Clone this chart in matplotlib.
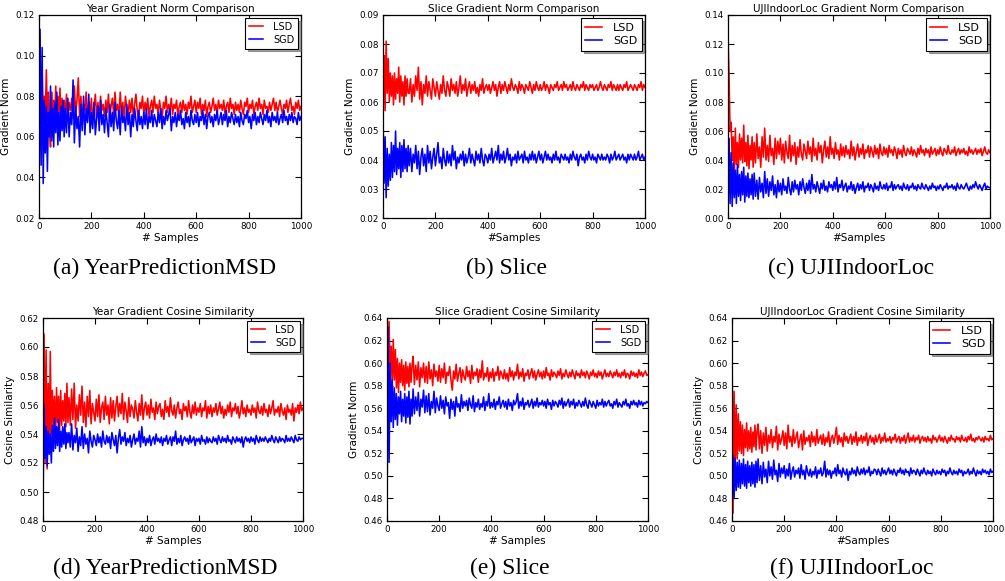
import matplotlib
matplotlib.use("Agg")
import matplotlib.pyplot as plt
from matplotlib.ticker import FormatStrFormatter

# sample index of every recorded point (every 4 samples up to 100, then every 5)
SAMPLES = list(range(0, 100, 4)) + list(range(100, 1001, 5))

# (a) YearPredictionMSD - gradient norm
year_norm_lsd = [
    0.090, 0.108, 0.072, 0.092, 0.066, 0.080, 0.070, 0.093, 0.068, 0.082,
    0.063, 0.055, 0.082, 0.068, 0.078, 0.070, 0.085, 0.066, 0.080, 0.071,
    0.084, 0.067, 0.079, 0.064, 0.078,
    0.071, 0.081, 0.068, 0.077, 0.073, 0.079, 0.069, 0.085, 0.072, 0.078,
    0.089, 0.070, 0.080, 0.066, 0.076, 0.073, 0.082, 0.068, 0.077, 0.071,
    0.079, 0.068, 0.074, 0.081, 0.070, 0.077, 0.067, 0.080, 0.073, 0.076,
    0.070, 0.078, 0.072, 0.081, 0.069, 0.075, 0.079, 0.071, 0.082, 0.073,
    0.076, 0.070, 0.082, 0.072, 0.077, 0.069, 0.080, 0.074, 0.071, 0.078,
    0.072, 0.079, 0.070, 0.076, 0.081, 0.073, 0.068, 0.077, 0.074, 0.080,
    0.071, 0.077, 0.073, 0.079, 0.070, 0.075, 0.078, 0.072, 0.080, 0.074,
    0.076, 0.071, 0.078, 0.073, 0.069, 0.077, 0.074, 0.080, 0.072, 0.076,
    0.073, 0.079, 0.071, 0.076, 0.074, 0.078, 0.070, 0.075, 0.077, 0.072,
    0.078, 0.073, 0.076, 0.071, 0.077, 0.074, 0.080, 0.072, 0.075, 0.078,
    0.072, 0.077, 0.074, 0.079, 0.071, 0.076, 0.073, 0.078, 0.070, 0.075,
    0.077, 0.072, 0.075, 0.079, 0.073, 0.076, 0.071, 0.078, 0.074, 0.076,
    0.073, 0.078, 0.071, 0.075, 0.077, 0.072, 0.079, 0.074, 0.076, 0.071,
    0.077, 0.073, 0.076, 0.072, 0.078, 0.074, 0.071, 0.077, 0.075, 0.079,
    0.072, 0.076, 0.074, 0.078, 0.071, 0.075, 0.077, 0.073, 0.079, 0.074,
    0.076, 0.071, 0.078, 0.074, 0.075, 0.072, 0.077, 0.073, 0.076, 0.079,
    0.073, 0.077, 0.072, 0.075, 0.078, 0.074, 0.071, 0.076, 0.074, 0.078,
    0.072, 0.076, 0.079, 0.073, 0.075, 0.071, 0.077, 0.074, 0.078, 0.073,
    0.075,
]
year_norm_sgd = [
    0.029, 0.113, 0.046, 0.104, 0.037, 0.078, 0.052, 0.075, 0.043, 0.072,
    0.060, 0.085, 0.058, 0.074, 0.055, 0.077, 0.062, 0.082, 0.056, 0.072,
    0.058, 0.075, 0.063, 0.078, 0.060,
    0.074, 0.062, 0.079, 0.060, 0.072, 0.066, 0.088, 0.057, 0.075, 0.064,
    0.070, 0.055, 0.076, 0.063, 0.080, 0.061, 0.074, 0.067, 0.081, 0.062,
    0.072, 0.064, 0.077, 0.061, 0.069, 0.075, 0.063, 0.078, 0.066, 0.071,
    0.062, 0.074, 0.067, 0.060, 0.076, 0.065, 0.072, 0.063, 0.077, 0.068,
    0.064, 0.073, 0.061, 0.075, 0.067, 0.070, 0.063, 0.076, 0.066, 0.072,
    0.060, 0.071, 0.065, 0.074, 0.068, 0.063, 0.073, 0.066, 0.070, 0.064,
    0.072, 0.066, 0.074, 0.064, 0.070, 0.067, 0.073, 0.065, 0.071, 0.068,
    0.065, 0.072, 0.067, 0.074, 0.064, 0.070, 0.066, 0.073, 0.068, 0.071,
    0.074, 0.063, 0.070, 0.067, 0.072, 0.065, 0.071, 0.068, 0.073, 0.066,
    0.069, 0.064, 0.072, 0.067, 0.070, 0.065, 0.073, 0.068, 0.066, 0.071,
    0.067, 0.072, 0.065, 0.070, 0.068, 0.073, 0.066, 0.071, 0.064, 0.070,
    0.072, 0.067, 0.070, 0.065, 0.071, 0.068, 0.073, 0.066, 0.069, 0.072,
    0.066, 0.071, 0.068, 0.073, 0.065, 0.070, 0.067, 0.072, 0.069, 0.066,
    0.071, 0.067, 0.070, 0.065, 0.072, 0.068, 0.066, 0.071, 0.069, 0.073,
    0.067, 0.070, 0.064, 0.071, 0.068, 0.072, 0.066, 0.070, 0.067, 0.072,
    0.069, 0.066, 0.071, 0.068, 0.073, 0.067, 0.070, 0.065, 0.072, 0.068,
    0.070, 0.067, 0.072, 0.066, 0.069, 0.071, 0.067, 0.073, 0.068, 0.070,
    0.066, 0.071, 0.068, 0.072, 0.067, 0.070, 0.069, 0.066, 0.072, 0.068,
    0.070,
]

# (b) Slice - gradient norm
slice_norm_lsd = [
    0.070, 0.076, 0.057, 0.081, 0.063, 0.075, 0.060, 0.070, 0.062, 0.069,
    0.059, 0.070, 0.061, 0.068, 0.063, 0.072, 0.060, 0.069, 0.062, 0.067,
    0.059, 0.069, 0.062, 0.068, 0.063,
    0.063, 0.068, 0.060, 0.066, 0.062, 0.069, 0.064, 0.072, 0.061, 0.067,
    0.059, 0.066, 0.063, 0.069, 0.062, 0.067, 0.064, 0.061, 0.068, 0.065,
    0.062, 0.067, 0.064, 0.061, 0.066, 0.063, 0.069, 0.064, 0.062, 0.067,
    0.065, 0.062, 0.068, 0.064, 0.066, 0.063, 0.067, 0.062, 0.065, 0.069,
    0.063, 0.066, 0.064, 0.068, 0.062, 0.065, 0.067, 0.063, 0.066, 0.064,
    0.067, 0.063, 0.065, 0.062, 0.066, 0.064, 0.068, 0.063, 0.065, 0.066,
    0.064, 0.066, 0.063, 0.065, 0.067, 0.064, 0.066, 0.062, 0.065, 0.067,
    0.063, 0.066, 0.064, 0.067, 0.065, 0.063, 0.066, 0.064, 0.068, 0.065,
    0.064, 0.066, 0.065, 0.063, 0.067, 0.064, 0.066, 0.065, 0.063, 0.066,
    0.065, 0.064, 0.067, 0.065, 0.063, 0.066, 0.064, 0.067, 0.065, 0.064,
    0.066, 0.064, 0.065, 0.067, 0.064, 0.066, 0.065, 0.063, 0.066, 0.065,
    0.064, 0.066, 0.065, 0.067, 0.064, 0.065, 0.066, 0.064, 0.067, 0.065,
    0.066, 0.064, 0.065, 0.066, 0.064, 0.067, 0.065, 0.064, 0.066, 0.065,
    0.064, 0.066, 0.065, 0.067, 0.064, 0.066, 0.065, 0.064, 0.066, 0.065,
    0.066, 0.064, 0.065, 0.066, 0.064, 0.065, 0.067, 0.065, 0.064, 0.066,
    0.065, 0.064, 0.066, 0.065, 0.067, 0.064, 0.066, 0.065, 0.064, 0.066,
    0.064, 0.066, 0.065, 0.064, 0.066, 0.065, 0.067, 0.064, 0.065, 0.066,
    0.065, 0.064, 0.066, 0.065, 0.064, 0.066, 0.065, 0.067, 0.064, 0.066,
    0.065,
]
slice_norm_sgd = [
    0.055, 0.032, 0.048, 0.027, 0.044, 0.031, 0.042, 0.033, 0.046, 0.034,
    0.045, 0.036, 0.050, 0.035, 0.044, 0.037, 0.046, 0.034, 0.045, 0.036,
    0.047, 0.037, 0.044, 0.036, 0.045,
    0.038, 0.044, 0.036, 0.042, 0.039, 0.045, 0.037, 0.043, 0.035, 0.041,
    0.044, 0.038, 0.042, 0.036, 0.045, 0.039, 0.043, 0.037, 0.041, 0.044,
    0.038, 0.042, 0.046, 0.039, 0.041, 0.037, 0.044, 0.040, 0.038, 0.043,
    0.039, 0.042, 0.038, 0.045, 0.040, 0.043, 0.037, 0.041, 0.039, 0.042,
    0.040, 0.043, 0.038, 0.042, 0.039, 0.041, 0.044, 0.039, 0.042, 0.040,
    0.038, 0.043, 0.040, 0.042, 0.039, 0.044, 0.040, 0.038, 0.042, 0.041,
    0.039, 0.042, 0.040, 0.044, 0.039, 0.041, 0.043, 0.040, 0.045, 0.039,
    0.042, 0.040, 0.043, 0.039, 0.041, 0.044, 0.040, 0.042, 0.038, 0.041,
    0.040, 0.042, 0.039, 0.043, 0.040, 0.041, 0.042, 0.039, 0.043, 0.040,
    0.041, 0.039, 0.042, 0.040, 0.043, 0.040, 0.042, 0.039, 0.041, 0.043,
    0.040, 0.042, 0.039, 0.041, 0.043, 0.040, 0.042, 0.040, 0.041, 0.039,
    0.042, 0.040, 0.043, 0.040, 0.041, 0.039, 0.042, 0.041, 0.040, 0.042,
    0.040, 0.041, 0.039, 0.042, 0.040, 0.043, 0.041, 0.040, 0.042, 0.038,
    0.041, 0.042, 0.040, 0.041, 0.039, 0.042, 0.040, 0.043, 0.041, 0.040,
    0.042, 0.040, 0.041, 0.039, 0.042, 0.041, 0.040, 0.042, 0.040, 0.041,
    0.040, 0.042, 0.041, 0.039, 0.042, 0.040, 0.041, 0.043, 0.040, 0.041,
    0.042, 0.040, 0.041, 0.042, 0.040, 0.041, 0.039, 0.042, 0.040, 0.042,
    0.041, 0.040, 0.042, 0.040, 0.041, 0.043, 0.040, 0.041, 0.042, 0.040,
    0.041,
]

# (c) UJIIndoorLoc - gradient norm
uji_norm_lsd = [
    0.125, 0.098, 0.060, 0.066, 0.040, 0.056, 0.028, 0.062, 0.037, 0.052,
    0.035, 0.058, 0.040, 0.055, 0.038, 0.064, 0.039, 0.052, 0.036, 0.057,
    0.034, 0.050, 0.040, 0.056, 0.035,
    0.052, 0.038, 0.058, 0.041, 0.049, 0.035, 0.056, 0.042, 0.062, 0.040,
    0.050, 0.039, 0.057, 0.043, 0.048, 0.037, 0.055, 0.041, 0.053, 0.044,
    0.055, 0.040, 0.051, 0.038, 0.053, 0.045, 0.041, 0.057, 0.039, 0.050,
    0.043, 0.052, 0.037, 0.049, 0.042, 0.054, 0.044, 0.040, 0.051, 0.046,
    0.041, 0.053, 0.044, 0.049, 0.039, 0.055, 0.043, 0.048, 0.040, 0.052,
    0.045, 0.050, 0.038, 0.047, 0.053, 0.042, 0.049, 0.041, 0.056, 0.044,
    0.048, 0.041, 0.052, 0.044, 0.047, 0.040, 0.051, 0.043, 0.049, 0.042,
    0.050, 0.044, 0.047, 0.041, 0.053, 0.043, 0.049, 0.040, 0.046, 0.051,
    0.042, 0.048, 0.044, 0.051, 0.041, 0.047, 0.045, 0.050, 0.042, 0.049,
    0.046, 0.042, 0.050, 0.044, 0.048, 0.041, 0.051, 0.045, 0.043, 0.049,
    0.044, 0.048, 0.042, 0.050, 0.045, 0.047, 0.043, 0.049, 0.046, 0.041,
    0.048, 0.044, 0.047, 0.042, 0.050, 0.045, 0.043, 0.048, 0.046, 0.044,
    0.049, 0.043, 0.047, 0.045, 0.042, 0.048, 0.044, 0.050, 0.045, 0.047,
    0.043, 0.048, 0.045, 0.047, 0.042, 0.049, 0.044, 0.046, 0.048, 0.043,
    0.047, 0.044, 0.049, 0.045, 0.043, 0.048, 0.046, 0.044, 0.050, 0.045,
    0.044, 0.047, 0.045, 0.049, 0.043, 0.046, 0.048, 0.044, 0.047, 0.045,
    0.048, 0.044, 0.046, 0.043, 0.049, 0.045, 0.047, 0.044, 0.046, 0.048,
    0.044, 0.047, 0.045, 0.048, 0.043, 0.046, 0.049, 0.045, 0.044, 0.047,
    0.045,
]
uji_norm_sgd = [
    0.003, 0.055, 0.010, 0.045, 0.008, 0.038, 0.014, 0.033, 0.010, 0.037,
    0.015, 0.030, 0.012, 0.032, 0.016, 0.035, 0.011, 0.029, 0.015, 0.031,
    0.014, 0.027, 0.016, 0.030, 0.013,
    0.031, 0.015, 0.026, 0.013, 0.028, 0.018, 0.024, 0.014, 0.032, 0.017,
    0.027, 0.015, 0.025, 0.019, 0.029, 0.016, 0.023, 0.014, 0.026, 0.018,
    0.024, 0.016, 0.027, 0.019, 0.022, 0.017, 0.028, 0.020, 0.016, 0.025,
    0.018, 0.026, 0.020, 0.023, 0.016, 0.025, 0.019, 0.027, 0.021, 0.017,
    0.024, 0.019, 0.026, 0.017, 0.030, 0.020, 0.023, 0.018, 0.025, 0.021,
    0.017, 0.024, 0.020, 0.026, 0.019, 0.022, 0.018, 0.025, 0.021, 0.023,
    0.019, 0.025, 0.020, 0.028, 0.018, 0.023, 0.021, 0.026, 0.019, 0.022,
    0.024, 0.018, 0.022, 0.020, 0.025, 0.019, 0.023, 0.017, 0.021, 0.024,
    0.019, 0.023, 0.020, 0.025, 0.018, 0.022, 0.021, 0.024, 0.019, 0.023,
    0.021, 0.018, 0.024, 0.020, 0.022, 0.019, 0.025, 0.021, 0.020, 0.023,
    0.020, 0.024, 0.019, 0.022, 0.021, 0.025, 0.019, 0.023, 0.020, 0.022,
    0.023, 0.020, 0.022, 0.019, 0.024, 0.021, 0.020, 0.023, 0.019, 0.022,
    0.021, 0.024, 0.020, 0.022, 0.019, 0.023, 0.021, 0.020, 0.024, 0.021,
    0.020, 0.023, 0.021, 0.019, 0.022, 0.020, 0.024, 0.021, 0.022, 0.019,
    0.022, 0.020, 0.023, 0.021, 0.019, 0.022, 0.021, 0.024, 0.020, 0.022,
    0.021, 0.023, 0.020, 0.022, 0.019, 0.024, 0.021, 0.020, 0.023, 0.021,
    0.020, 0.022, 0.024, 0.021, 0.019, 0.022, 0.020, 0.023, 0.021, 0.025,
    0.022, 0.020, 0.023, 0.021, 0.019, 0.022, 0.024, 0.020, 0.022, 0.021,
    0.021,
]

# (d) YearPredictionMSD - cosine similarity
year_cos_lsd = [
    0.550, 0.609, 0.520, 0.598, 0.516, 0.575, 0.530, 0.597, 0.540, 0.570,
    0.545, 0.566, 0.535, 0.572, 0.548, 0.566, 0.543, 0.570, 0.546, 0.563,
    0.549, 0.568, 0.545, 0.575, 0.548,
    0.565, 0.546, 0.571, 0.550, 0.575, 0.544, 0.560, 0.549, 0.567, 0.553,
    0.573, 0.548, 0.562, 0.545, 0.566, 0.552, 0.570, 0.547, 0.561, 0.555,
    0.549, 0.564, 0.552, 0.567, 0.548, 0.558, 0.562, 0.550, 0.566, 0.553,
    0.560, 0.547, 0.565, 0.551, 0.563, 0.549, 0.559, 0.566, 0.552, 0.561,
    0.554, 0.568, 0.550, 0.562, 0.556, 0.548, 0.565, 0.552, 0.560, 0.557,
    0.551, 0.563, 0.555, 0.549, 0.561, 0.553, 0.567, 0.550, 0.558, 0.562,
    0.553, 0.560, 0.551, 0.564, 0.555, 0.558, 0.550, 0.562, 0.554, 0.559,
    0.561, 0.552, 0.557, 0.550, 0.563, 0.555, 0.559, 0.552, 0.565, 0.556,
    0.553, 0.560, 0.551, 0.558, 0.562, 0.554, 0.557, 0.550, 0.561, 0.556,
    0.559, 0.552, 0.563, 0.555, 0.551, 0.560, 0.554, 0.562, 0.553, 0.558,
    0.555, 0.561, 0.552, 0.558, 0.556, 0.563, 0.551, 0.559, 0.554, 0.560,
    0.552, 0.558, 0.555, 0.561, 0.553, 0.557, 0.562, 0.554, 0.559, 0.551,
    0.557, 0.553, 0.560, 0.555, 0.562, 0.552, 0.558, 0.556, 0.561, 0.554,
    0.559, 0.551, 0.556, 0.563, 0.554, 0.558, 0.552, 0.560, 0.555, 0.557,
    0.553, 0.560, 0.555, 0.558, 0.551, 0.562, 0.556, 0.554, 0.559, 0.553,
    0.561, 0.555, 0.557, 0.552, 0.560, 0.554, 0.558, 0.563, 0.553, 0.557,
    0.555, 0.559, 0.552, 0.561, 0.556, 0.553, 0.558, 0.550, 0.560, 0.555,
    0.557, 0.553, 0.561, 0.549, 0.558, 0.555, 0.560, 0.554, 0.562, 0.556,
    0.558,
]
year_cos_sgd = [
    0.491, 0.560, 0.523, 0.545, 0.518, 0.542, 0.526, 0.540, 0.520, 0.546,
    0.528, 0.551, 0.530, 0.545, 0.532, 0.550, 0.528, 0.542, 0.531, 0.545,
    0.533, 0.547, 0.530, 0.541, 0.534,
    0.541, 0.531, 0.547, 0.529, 0.539, 0.534, 0.544, 0.528, 0.538, 0.532,
    0.545, 0.530, 0.540, 0.533, 0.537, 0.527, 0.542, 0.535, 0.531, 0.539,
    0.536, 0.532, 0.540, 0.534, 0.538, 0.531, 0.542, 0.535, 0.533, 0.539,
    0.534, 0.538, 0.530, 0.541, 0.536, 0.532, 0.539, 0.527, 0.537, 0.543,
    0.533, 0.538, 0.535, 0.541, 0.532, 0.537, 0.534, 0.539, 0.531, 0.536,
    0.540, 0.533, 0.537, 0.535, 0.542, 0.531, 0.545, 0.534, 0.538, 0.532,
    0.537, 0.534, 0.539, 0.532, 0.536, 0.538, 0.533, 0.540, 0.535, 0.537,
    0.534, 0.538, 0.532, 0.537, 0.535, 0.539, 0.533, 0.536, 0.538, 0.532,
    0.538, 0.535, 0.542, 0.533, 0.537, 0.534, 0.539, 0.532, 0.536, 0.538,
    0.535, 0.537, 0.533, 0.539, 0.534, 0.536, 0.538, 0.532, 0.537, 0.535,
    0.537, 0.533, 0.539, 0.535, 0.536, 0.533, 0.538, 0.534, 0.537, 0.535,
    0.534, 0.538, 0.535, 0.537, 0.533, 0.539, 0.536, 0.534, 0.538, 0.535,
    0.537, 0.534, 0.539, 0.535, 0.536, 0.533, 0.538, 0.536, 0.534, 0.538,
    0.535, 0.537, 0.534, 0.538, 0.531, 0.536, 0.538, 0.535, 0.537, 0.534,
    0.538, 0.535, 0.537, 0.533, 0.539, 0.536, 0.534, 0.538, 0.535, 0.537,
    0.535, 0.538, 0.536, 0.534, 0.537, 0.535, 0.539, 0.536, 0.534, 0.538,
    0.536, 0.534, 0.538, 0.535, 0.537, 0.536, 0.534, 0.539, 0.535, 0.537,
    0.535, 0.538, 0.536, 0.534, 0.539, 0.536, 0.535, 0.538, 0.536, 0.537,
    0.537,
]

# (e) Slice - cosine similarity
slice_cos_lsd = [
    0.625, 0.610, 0.637, 0.590, 0.615, 0.580, 0.621, 0.585, 0.612, 0.578,
    0.604, 0.574, 0.600, 0.583, 0.603, 0.580, 0.598, 0.576, 0.601, 0.582,
    0.597, 0.579, 0.600, 0.583, 0.598,
    0.606, 0.581, 0.598, 0.585, 0.601, 0.579, 0.596, 0.587, 0.600, 0.583,
    0.597, 0.582, 0.601, 0.586, 0.594, 0.580, 0.599, 0.588, 0.593, 0.584,
    0.598, 0.583, 0.595, 0.587, 0.600, 0.582, 0.592, 0.589, 0.597, 0.585,
    0.576, 0.593, 0.586, 0.599, 0.584, 0.591, 0.596, 0.583, 0.594, 0.588,
    0.585, 0.597, 0.588, 0.593, 0.582, 0.598, 0.586, 0.592, 0.589, 0.595,
    0.583, 0.594, 0.587, 0.602, 0.585, 0.591, 0.588, 0.596, 0.584, 0.592,
    0.587, 0.595, 0.584, 0.592, 0.589, 0.597, 0.585, 0.593, 0.590, 0.586,
    0.594, 0.586, 0.591, 0.584, 0.596, 0.588, 0.593, 0.585, 0.592, 0.589,
    0.599, 0.586, 0.592, 0.588, 0.595, 0.584, 0.591, 0.589, 0.594, 0.586,
    0.591, 0.595, 0.587, 0.593, 0.585, 0.590, 0.594, 0.588, 0.592, 0.586,
    0.593, 0.587, 0.596, 0.589, 0.591, 0.585, 0.594, 0.588, 0.592, 0.590,
    0.587, 0.593, 0.589, 0.595, 0.586, 0.591, 0.588, 0.594, 0.590, 0.587,
    0.592, 0.588, 0.594, 0.590, 0.586, 0.593, 0.589, 0.591, 0.587, 0.594,
    0.589, 0.592, 0.587, 0.593, 0.590, 0.586, 0.592, 0.589, 0.594, 0.588,
    0.591, 0.587, 0.593, 0.589, 0.592, 0.586, 0.590, 0.594, 0.588, 0.591,
    0.588, 0.593, 0.590, 0.587, 0.592, 0.589, 0.594, 0.588, 0.591, 0.587,
    0.592, 0.589, 0.594, 0.587, 0.591, 0.590, 0.586, 0.593, 0.589, 0.592,
    0.588, 0.591, 0.587, 0.594, 0.589, 0.592, 0.588, 0.591, 0.593, 0.589,
    0.590,
]
slice_cos_sgd = [
    0.461, 0.632, 0.512, 0.600, 0.548, 0.585, 0.543, 0.578, 0.550, 0.573,
    0.545, 0.570, 0.555, 0.575, 0.548, 0.568, 0.553, 0.573, 0.547, 0.570,
    0.552, 0.575, 0.546, 0.568, 0.553,
    0.577, 0.555, 0.570, 0.558, 0.574, 0.553, 0.568, 0.561, 0.576, 0.556,
    0.571, 0.557, 0.573, 0.554, 0.566, 0.560, 0.575, 0.556, 0.569, 0.562,
    0.558, 0.571, 0.560, 0.567, 0.555, 0.570, 0.562, 0.565, 0.551, 0.568,
    0.559, 0.566, 0.553, 0.570, 0.561, 0.564, 0.557, 0.572, 0.560, 0.566,
    0.562, 0.567, 0.558, 0.569, 0.563, 0.560, 0.571, 0.557, 0.565, 0.561,
    0.568, 0.559, 0.564, 0.561, 0.570, 0.558, 0.566, 0.562, 0.573, 0.560,
    0.565, 0.561, 0.568, 0.559, 0.566, 0.563, 0.570, 0.560, 0.564, 0.567,
    0.561, 0.566, 0.559, 0.568, 0.562, 0.565, 0.558, 0.567, 0.563, 0.566,
    0.573, 0.560, 0.566, 0.562, 0.569, 0.559, 0.565, 0.563, 0.567, 0.561,
    0.564, 0.568, 0.560, 0.566, 0.562, 0.569, 0.561, 0.565, 0.563, 0.567,
    0.562, 0.566, 0.560, 0.568, 0.563, 0.565, 0.559, 0.567, 0.562, 0.566,
    0.564, 0.561, 0.567, 0.563, 0.569, 0.560, 0.566, 0.562, 0.565, 0.568,
    0.561, 0.566, 0.563, 0.568, 0.560, 0.565, 0.562, 0.567, 0.564, 0.561,
    0.566, 0.562, 0.569, 0.563, 0.560, 0.567, 0.564, 0.561, 0.566, 0.563,
    0.560, 0.567, 0.562, 0.565, 0.563, 0.568, 0.561, 0.566, 0.562, 0.565,
    0.567, 0.562, 0.564, 0.560, 0.566, 0.563, 0.568, 0.561, 0.565, 0.563,
    0.561, 0.566, 0.563, 0.568, 0.562, 0.564, 0.560, 0.566, 0.563, 0.567,
    0.563, 0.565, 0.561, 0.567, 0.563, 0.566, 0.562, 0.565, 0.564, 0.566,
    0.565,
]

# (f) UJIIndoorLoc - cosine similarity
uji_cos_lsd = [
    0.622, 0.467, 0.575, 0.505, 0.563, 0.515, 0.555, 0.522, 0.548, 0.520,
    0.545, 0.518, 0.541, 0.525, 0.547, 0.522, 0.540, 0.524, 0.543, 0.521,
    0.539, 0.526, 0.545, 0.523, 0.540,
    0.546, 0.524, 0.540, 0.520, 0.538, 0.527, 0.543, 0.522, 0.536, 0.529,
    0.541, 0.525, 0.535, 0.530, 0.544, 0.523, 0.537, 0.528, 0.533, 0.540,
    0.527, 0.538, 0.524, 0.545, 0.530, 0.535, 0.526, 0.541, 0.529, 0.534,
    0.539, 0.525, 0.532, 0.537, 0.523, 0.540, 0.528, 0.534, 0.531, 0.536,
    0.526, 0.539, 0.530, 0.535, 0.527, 0.541, 0.529, 0.533, 0.536, 0.528,
    0.537, 0.527, 0.534, 0.530, 0.539, 0.526, 0.533, 0.536, 0.529, 0.535,
    0.543, 0.528, 0.536, 0.530, 0.534, 0.526, 0.538, 0.531, 0.535, 0.529,
    0.533, 0.537, 0.528, 0.535, 0.530, 0.539, 0.527, 0.534, 0.531, 0.536,
    0.529, 0.535, 0.531, 0.538, 0.527, 0.533, 0.536, 0.530, 0.534, 0.528,
    0.536, 0.530, 0.533, 0.537, 0.529, 0.534, 0.531, 0.538, 0.530, 0.533,
    0.531, 0.535, 0.529, 0.534, 0.532, 0.537, 0.530, 0.533, 0.535, 0.529,
    0.534, 0.531, 0.536, 0.529, 0.533, 0.538, 0.530, 0.534, 0.531, 0.536,
    0.530, 0.534, 0.532, 0.536, 0.529, 0.533, 0.535, 0.531, 0.534, 0.530,
    0.535, 0.531, 0.533, 0.529, 0.536, 0.532, 0.534, 0.530, 0.533, 0.536,
    0.531, 0.534, 0.530, 0.535, 0.532, 0.529, 0.534, 0.531, 0.536, 0.532,
    0.533, 0.530, 0.535, 0.532, 0.534, 0.530, 0.536, 0.532, 0.531, 0.534,
    0.530, 0.535, 0.532, 0.537, 0.531, 0.533, 0.530, 0.534, 0.532, 0.535,
    0.533, 0.531, 0.534, 0.530, 0.535, 0.532, 0.533, 0.531, 0.536, 0.532,
    0.533,
]
uji_cos_sgd = [
    0.472, 0.518, 0.480, 0.516, 0.487, 0.512, 0.490, 0.514, 0.489, 0.511,
    0.493, 0.515, 0.491, 0.510, 0.489, 0.513, 0.494, 0.509, 0.491, 0.512,
    0.493, 0.510, 0.490, 0.513, 0.494,
    0.515, 0.496, 0.509, 0.493, 0.512, 0.499, 0.506, 0.494, 0.513, 0.500,
    0.508, 0.497, 0.514, 0.501, 0.505, 0.495, 0.511, 0.499, 0.507, 0.502,
    0.509, 0.498, 0.506, 0.500, 0.511, 0.497, 0.504, 0.508, 0.499, 0.505,
    0.502, 0.507, 0.498, 0.510, 0.501, 0.505, 0.497, 0.509, 0.503, 0.500,
    0.506, 0.499, 0.504, 0.501, 0.508, 0.498, 0.505, 0.502, 0.507, 0.500,
    0.503, 0.513, 0.499, 0.506, 0.501, 0.505, 0.498, 0.504, 0.502, 0.507,
    0.500, 0.510, 0.502, 0.505, 0.499, 0.507, 0.503, 0.501, 0.506, 0.496,
    0.504, 0.501, 0.507, 0.502, 0.505, 0.500, 0.508, 0.503, 0.501, 0.506,
    0.502, 0.507, 0.501, 0.505, 0.503, 0.508, 0.500, 0.504, 0.502, 0.506,
    0.505, 0.501, 0.506, 0.503, 0.500, 0.507, 0.502, 0.505, 0.501, 0.504,
    0.507, 0.502, 0.505, 0.501, 0.506, 0.503, 0.500, 0.505, 0.503, 0.507,
    0.502, 0.505, 0.501, 0.506, 0.503, 0.504, 0.500, 0.507, 0.502, 0.505,
    0.504, 0.501, 0.506, 0.503, 0.500, 0.505, 0.502, 0.507, 0.503, 0.501,
    0.505, 0.502, 0.504, 0.500, 0.506, 0.503, 0.501, 0.505, 0.502, 0.504,
    0.501, 0.506, 0.503, 0.505, 0.500, 0.504, 0.502, 0.507, 0.503, 0.501,
    0.505, 0.502, 0.504, 0.501, 0.506, 0.503, 0.505, 0.500, 0.504, 0.502,
    0.503, 0.506, 0.501, 0.504, 0.502, 0.507, 0.503, 0.500, 0.505, 0.502,
    0.504, 0.501, 0.506, 0.503, 0.505, 0.502, 0.504, 0.501, 0.506, 0.503,
    0.504,
]

plt.rcParams["font.family"] = ["DejaVu Sans"]


def draw_panel(rect, title, xlabel, ylabel, ylim, ystep, lsd, sgd, legend_size):
    ax = fig.add_axes(rect)
    ax.plot(SAMPLES, lsd, color="#ff0000", lw=1.15, label="LSD")
    ax.plot(SAMPLES, sgd, color="#0000ff", lw=1.15, label="SGD")
    ax.set_xlim(0, 1000)
    ax.set_ylim(*ylim)
    ax.set_xticks([0, 200, 400, 600, 800, 1000])
    n = int(round((ylim[1] - ylim[0]) / ystep))
    ax.set_yticks([ylim[0] + i * ystep for i in range(n + 1)])
    ax.yaxis.set_major_formatter(FormatStrFormatter("%.2f"))
    ax.tick_params(direction="in", top=True, right=True, length=4,
                   labelsize=6.3, pad=3)
    for s in ax.spines.values():
        s.set_linewidth(0.9)
    ax.set_title(title, fontsize=7.5, pad=2)
    ax.set_xlabel(xlabel, fontsize=7.5, labelpad=1)
    ax.set_ylabel(ylabel, fontsize=7.5, labelpad=3)
    leg = ax.legend(loc="upper right", fontsize=legend_size, shadow=True,
                    fancybox=False, framealpha=1, edgecolor="black",
                    handlelength=1.5, handletextpad=1.0, borderaxespad=0.3,
                    labelspacing=0.3)
    leg.get_frame().set_linewidth(0.8)
    return ax


fig = plt.figure(figsize=(10.05, 5.81), dpi=100)
W, H = 1005.0, 581.0


def rect(left, top, right, bottom):
    return [left / W, 1 - bottom / H, (right - left) / W, (bottom - top) / H]


draw_panel(rect(39, 15, 301, 218), "Year Gradient Norm Comparison", "# Samples",
           "Gradient Norm", (0.02, 0.12), 0.02, year_norm_lsd, year_norm_sgd, 7)
draw_panel(rect(383, 15, 645, 218), "Slice Gradient Norm Comparison", "#Samples",
           "Gradient Norm", (0.02, 0.09), 0.01, slice_norm_lsd, slice_norm_sgd, 8)
draw_panel(rect(728, 15, 990, 218), "UJIIndoorLoc Gradient Norm Comparison", "#Samples",
           "Gradient Norm", (0.0, 0.14), 0.02, uji_norm_lsd, uji_norm_sgd, 8)
draw_panel(rect(43, 318, 303, 521), "Year Gradient Cosine Similarity", "# Samples",
           "Cosine Similarity", (0.48, 0.62), 0.02, year_cos_lsd, year_cos_sgd, 7)
draw_panel(rect(387, 318, 648, 521), "Slice Gradient Cosine Similarity", "# Samples",
           "Gradient Norm", (0.46, 0.64), 0.02, slice_cos_lsd, slice_cos_sgd, 7)
draw_panel(rect(732, 318, 993, 521), "UJIIndoorLoc Gradient Cosine Similarity", "#Samples",
           "Cosine Similarity", (0.46, 0.64), 0.02, uji_cos_lsd, uji_cos_sgd, 8)

# sub-figure captions
captions = [("(a) YearPredictionMSD", 165, 268), ("(b) Slice", 506, 268),
            ("(c) UJIIndoorLoc", 851, 268), ("(d) YearPredictionMSD", 165, 568),
            ("(e) Slice", 510, 568), ("(f) UJIIndoorLoc", 852, 568)]
for text, cx, cy in captions:
    fig.text(cx / W, 1 - cy / H, text, ha="center", va="center",
             fontsize=17, family="Liberation Serif")

fig.savefig("out.png", dpi=100)
